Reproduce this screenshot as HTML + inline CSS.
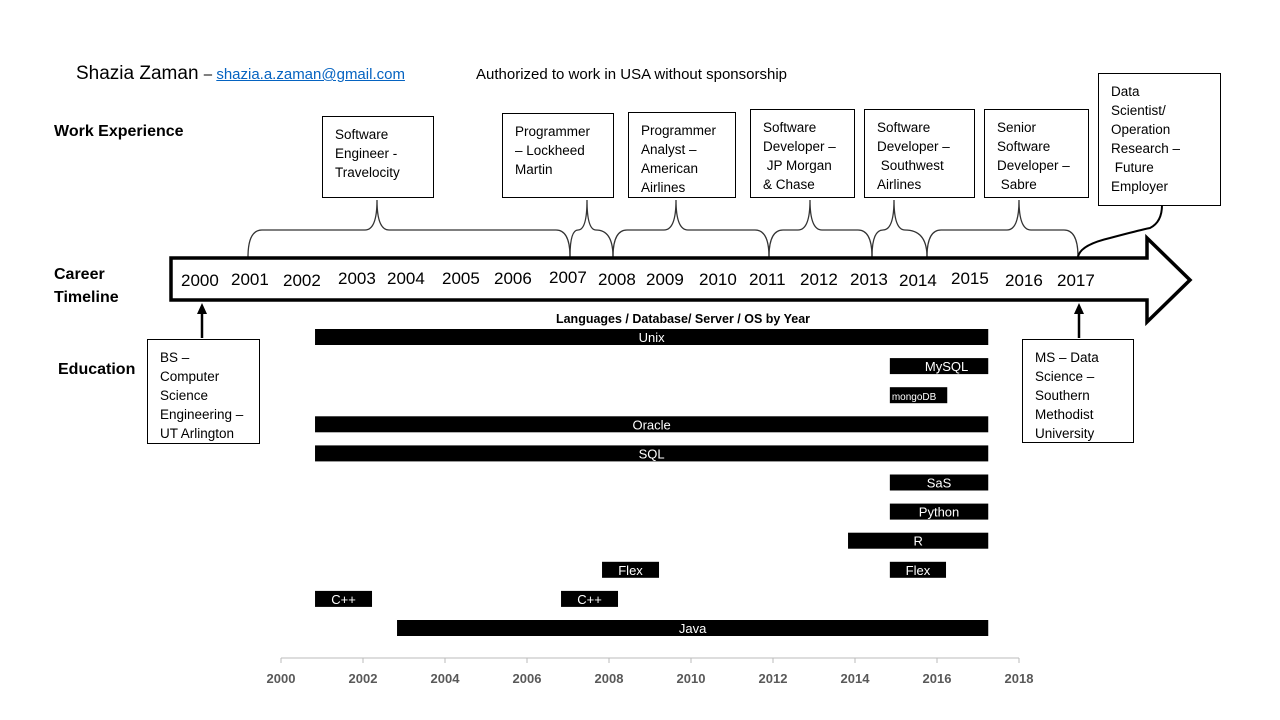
<!DOCTYPE html>
<html><head><meta charset="utf-8"><style>
body{margin:0;width:1280px;height:720px;background:#fff;position:relative;overflow:hidden;font-family:"Liberation Sans",sans-serif;color:#000}
.a{position:absolute;white-space:nowrap}
.box{position:absolute;border:1px solid #000;background:#fff;box-sizing:border-box;padding:8px 0 0 12px;font-size:13.5px;line-height:19px;white-space:nowrap}
.lbl{font-weight:bold;font-size:16px}
</style></head><body>
<div class="a" style="left:76px;top:63px;font-size:19px">Shazia Zaman <span style="font-size:15px">– <a style="color:#0563c1;text-decoration:underline">shazia.a.zaman@gmail.com</a></span></div>
<div class="a" style="left:476px;top:66px;font-size:15px">Authorized to work in USA without sponsorship</div>
<div class="a lbl" style="left:54px;top:123px">Work Experience</div>
<div class="a lbl" style="left:54px;top:263px;line-height:23px">Career<br>Timeline</div>
<div class="a lbl" style="left:58px;top:361px">Education</div>

<div class="box" style="left:322px;top:116px;width:112px;height:82px">Software<br>Engineer -<br>Travelocity</div>
<div class="box" style="left:502px;top:113px;width:112px;height:85px">Programmer<br>– Lockheed<br>Martin</div>
<div class="box" style="left:628px;top:112px;width:108px;height:86px">Programmer<br>Analyst –<br>American<br>Airlines</div>
<div class="box" style="left:750px;top:109px;width:105px;height:89px">Software<br>Developer –<br>&nbsp;JP Morgan<br>&amp; Chase</div>
<div class="box" style="left:864px;top:109px;width:111px;height:89px">Software<br>Developer –<br>&nbsp;Southwest<br>Airlines</div>
<div class="box" style="left:984px;top:109px;width:105px;height:89px">Senior<br>Software<br>Developer –<br>&nbsp;Sabre</div>
<div class="box" style="left:1098px;top:73px;width:123px;height:133px">Data<br>Scientist/<br>Operation<br>Research –<br>&nbsp;Future<br>Employer</div>
<div class="box" style="left:147px;top:339px;width:113px;height:105px">BS –<br>Computer<br>Science<br>Engineering –<br>UT Arlington</div>
<div class="box" style="left:1022px;top:339px;width:112px;height:104px">MS – Data<br>Science –<br>Southern<br>Methodist<br>University</div>

<svg class="a" style="left:0;top:0" width="1280" height="720">
<g fill="none" stroke="#333" stroke-width="1.3">
<path d="M248,257 Q248,230 262,230 L365,230 Q377,230 377,200 Q377,230 389,230 L556,230 Q570,230 570,257"/>
<path d="M570,257 Q570,230 578,230 Q587,230 587,200 Q587,230 596,230 Q613,230 613,257"/>
<path d="M613,257 Q613,230 627,230 L664,230 Q676,230 676,200 Q676,230 688,230 L755,230 Q769,230 769,257"/>
<path d="M769,257 Q769,230 783,230 L798,230 Q810,230 810,200 Q810,230 822,230 L858,230 Q872,230 872,257"/>
<path d="M872,257 Q872,230 883,230 Q894,230 894,200 Q894,230 905,230 Q927,230 927,257"/>
<path d="M927,257 Q927,230 941,230 L1007,230 Q1019,230 1019,200 Q1019,230 1031,230 L1064,230 Q1078,230 1078,257"/>
<path d="M1078,257 Q1080,245 1110,238 Q1140,230 1150,228 Q1162,222 1162,205" stroke="#000" stroke-width="2"/>
</g>
<path d="M171,258 L1147,258 L1147,238 L1190,280 L1147,322 L1147,300 L171,300 Z" fill="#fff" stroke="#000" stroke-width="3.5"/>
<g font-size="17" font-family="Liberation Sans" id="yrs"></g>
<line x1="202" y1="338" x2="202" y2="312" stroke="#000" stroke-width="2.5"/><path d="M197,314 L202,303 L207,314Z"/>
<line x1="1079" y1="338" x2="1079" y2="312" stroke="#000" stroke-width="2.5"/><path d="M1074,314 L1079,303 L1084,314Z"/>
<text x="683" y="323" text-anchor="middle" font-size="12.5" font-weight="bold">Languages / Database/ Server / OS by Year</text>
<g id="chart"></g>
</svg>
<script>
const yearLabels=["2000","2001","2002","2003","2004","2005","2006","2007","2008","2009","2010","2011","2012","2013","2014","2015","2016","2017"];
const yearX=[181,231,283,338,387,442,494,549,598,646,699,749,800,850,899,951,1005,1057];
const yearY=[286,285,286,284,284,284,284,283,285,285,285,285,285,285,286,284,286,286];
const skills=["Unix","MySQL","mongoDB","Oracle","SQL","SaS","Python","R","Flex","C++","C++","Java","Flex"];
const rows=[0,1,2,3,4,5,6,7,8,9,9,10,8];
const starts=[2000.83,2014.85,2014.85,2000.83,2000.83,2014.85,2014.85,2013.83,2007.83,2000.83,2006.83,2002.83,2014.85];
const ends=[2017.25,2017.25,2016.25,2017.25,2017.25,2017.25,2017.25,2017.25,2009.22,2002.22,2008.22,2017.25,2016.22];
const ticks=[2000,2002,2004,2006,2008,2010,2012,2014,2016,2018];
const NS="http://www.w3.org/2000/svg";
const xs=v=>281+(v-2000)*41, ys=r=>337+r*29.1;
const g=document.getElementById('chart'), yg=document.getElementById('yrs');
yearLabels.forEach((t,i)=>{const e=document.createElementNS(NS,'text');e.setAttribute('x',yearX[i]);e.setAttribute('y',yearY[i]);e.textContent=t;


yg.appendChild(e);});
skills.forEach((s,i)=>{const r=document.createElementNS(NS,'rect');const x0=xs(starts[i]),x1=xs(ends[i]),y=ys(rows[i]);
r.setAttribute('x',x0);r.setAttribute('y',y-8);r.setAttribute('width',x1-x0);r.setAttribute('height',16);r.setAttribute('fill','#000');


g.appendChild(r);
const t=document.createElementNS(NS,'text');t.setAttribute('x',s==='MySQL'?x1-20:(s==='mongoDB'?x0+2:(x0+x1)/2));t.setAttribute('y',y+5);
t.setAttribute('text-anchor',s==='MySQL'?'end':(s==='mongoDB'?'start':'middle'));t.setAttribute('fill','#fff');t.setAttribute('font-size',s==='mongoDB'?10:13);t.textContent=s;


g.appendChild(t);});
const ax=document.createElementNS(NS,'line');ax.setAttribute('x1',281);ax.setAttribute('x2',1019);ax.setAttribute('y1',658);ax.setAttribute('y2',658);ax.setAttribute('stroke','#bbb');


g.appendChild(ax);
ticks.forEach(v=>{const l=document.createElementNS(NS,'line');l.setAttribute('x1',xs(v));l.setAttribute('x2',xs(v));l.setAttribute('y1',658);l.setAttribute('y2',663);l.setAttribute('stroke','#bbb');


g.appendChild(l);
const t=document.createElementNS(NS,'text');t.setAttribute('x',xs(v));t.setAttribute('y',683);t.setAttribute('text-anchor','middle');t.setAttribute('font-size',13);t.setAttribute('font-weight','bold');t.setAttribute('fill','#595959');t.textContent=v;


g.appendChild(t);});
</script>
</body></html>
